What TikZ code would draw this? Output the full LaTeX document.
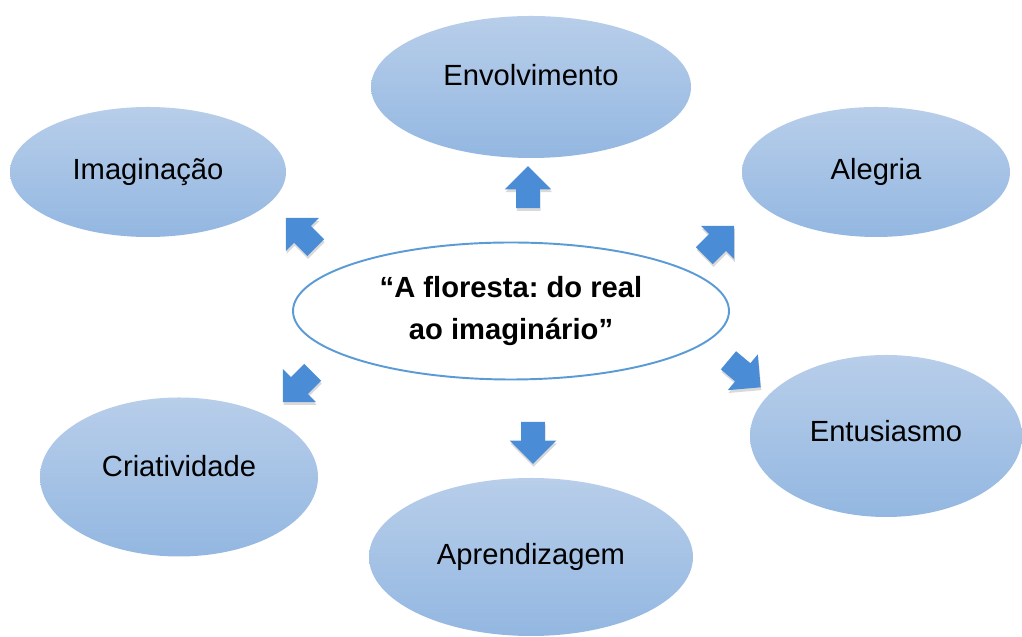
\documentclass[tikz,border=0pt]{standalone}
\usepackage{fontspec}
\setmainfont{Liberation Sans}
\usepackage{tikz}
\usetikzlibrary{positioning,shapes.geometric,shapes.arrows,shadows}

\definecolor{bubbletop}{RGB}{184,206,234}
\definecolor{bubblebot}{RGB}{147,183,225}
\definecolor{rimblue}{RGB}{91,155,213}
\definecolor{arrowblue}{RGB}{74,141,214}

\tikzset{
  lbl/.style={font=\fontsize{16.6}{24}\selectfont},
  bubble/.style={ellipse, inner sep=0pt, top color=bubbletop, bottom color=bubblebot, lbl},
  centre/.style={ellipse, inner sep=0pt, draw=rimblue, line width=1.1pt, fill=white,
    align=center, font=\fontsize{16.6}{24}\selectfont\bfseries\frenchspacing},
  blockarrow/.style={single arrow, inner sep=0.23cm, fill=arrowblue,
    minimum height=0.84cm, minimum width=0.92cm, single arrow head extend=0.23cm,
    drop shadow={opacity=0.3, shadow xshift=0.4pt, shadow yshift=-1.6pt}}
}

\begin{document}
\begin{tikzpicture}
    \useasboundingbox (0,0) rectangle (20.44,12.74);

    % the central idea
    \node[centre, minimum width=8.72cm, minimum height=2.74cm] (floresta) at (10.22,6.52)
      {``A floresta: do real\\ao imaginário''};

    % the six bubbles round it
    \node[bubble, minimum width=6.4cm, minimum height=2.84cm] (envolvimento) at (10.62,11.0) {};
    \node[lbl] at (10.62,11.24) {Envolvimento};
    \node[bubble, minimum width=5.52cm, minimum height=2.6cm] (imaginacao) at (2.96,9.3) {Imaginação};
    \node[bubble, minimum width=5.36cm, minimum height=2.6cm] (alegria) at (17.52,9.3) {Alegria};
    \node[bubble, minimum width=5.56cm, minimum height=3.18cm] (criatividade) at (3.58,3.2) {};
    \node[lbl] at (3.58,3.42) {Criatividade};
    \node[bubble, minimum width=5.44cm, minimum height=3.24cm] (entusiasmo) at (17.72,4.02) {};
    \node[lbl] at (17.72,4.12) {Entusiasmo};
    \node[bubble, minimum width=6.48cm, minimum height=3.16cm] (aprendizagem) at (10.62,1.6) {Aprendizagem};

    % the arrows pointing out
    \node[blockarrow, rotate=90] (toenv) at (10.56,8.88) {};
    \node[blockarrow, rotate=135] (toima) at (6.1,8.0) {};
    \node[blockarrow, rotate=45] (toale) at (14.3,7.84) {};
    \node[blockarrow, rotate=225] (tocri) at (6.04,5.08) {};
    \node[blockarrow, rotate=-40] (toent) at (14.8,5.34) {};
    \node[blockarrow, rotate=-90] (toapr) at (10.66,4.0) {};
\end{tikzpicture}
\end{document}
